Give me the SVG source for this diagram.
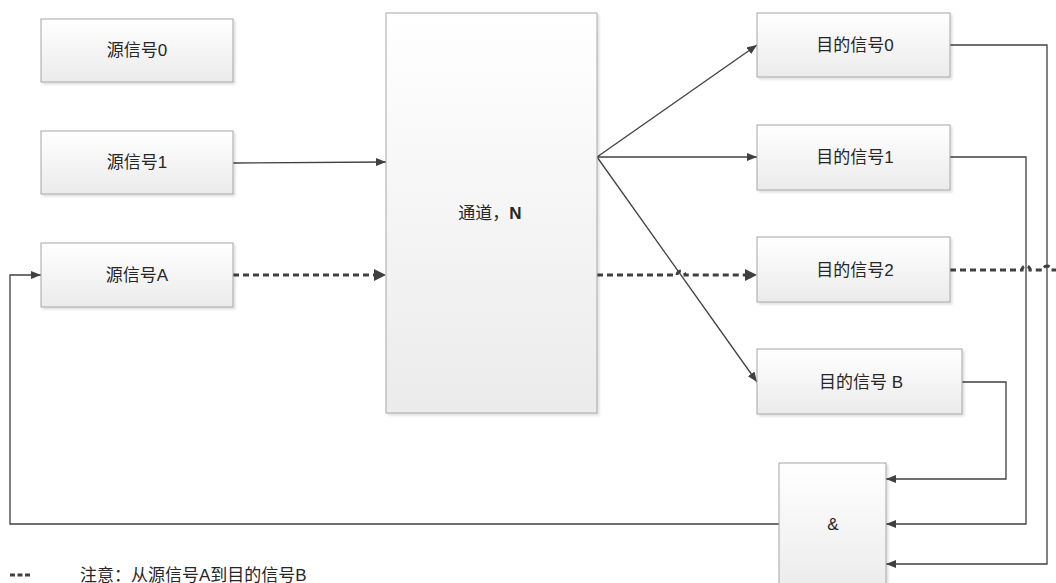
<svg xmlns="http://www.w3.org/2000/svg" width="1056" height="583" viewBox="0 0 1056 583">
<style>
.box{fill:url(#g);stroke:#a6a6a6;stroke-width:1;filter:url(#sh)}
.t{font-family:"Liberation Sans","Noto Sans CJK SC",sans-serif;font-size:17px;fill:#262626;text-anchor:middle}
.c{fill:none;stroke:#404040;stroke-width:1.3}
.d{fill:none;stroke:#404040;stroke-width:3;stroke-dasharray:6 4}
</style>
<defs>
<linearGradient id="g" x1="0" y1="0" x2="0" y2="1">
<stop offset="0" stop-color="#ffffff"/>
<stop offset="1" stop-color="#ebebeb"/>
</linearGradient>
<filter id="sh" x="-10%" y="-10%" width="130%" height="130%">
<feDropShadow dx="2" dy="2" stdDeviation="1" flood-color="#000" flood-opacity="0.12"/>
</filter>
<marker id="a" viewBox="0 0 10 8" refX="10" refY="4" markerWidth="10" markerHeight="8" markerUnits="userSpaceOnUse" orient="auto">
<path d="M0,0 L10,4 L0,8 Z" fill="#404040"/>
</marker>
<marker id="ab" viewBox="0 0 10 8" refX="10" refY="4" markerWidth="12" markerHeight="10" markerUnits="userSpaceOnUse" orient="auto">
<path d="M0,0 L10,4 L0,8 Z" fill="#404040"/>
</marker>
</defs>
<g id="connectors">
<path class="c" d="M233,163 L386,162" marker-end="url(#a)"/>
<path class="d" d="M233,275 L375,275"/>
<path d="M374,269 L386,275 L374,281 Z" fill="#404040"/>
<path class="c" d="M597,157 L757,45" marker-end="url(#a)"/>
<path class="c" d="M597,157 L757,157" marker-end="url(#a)"/>
<path class="c" d="M597,157 L757,382" marker-end="url(#a)"/>
<path class="d" d="M597,275 L677,275 A4,4 0 0 1 685,275 L746,275"/>
<path d="M745,269 L757,275 L745,281 Z" fill="#404040"/>
<path class="d" d="M950,270 L1022,270 A4,4 0 0 1 1030,270 L1043,270 A4,4 0 0 1 1051,270 L1056,270"/>
<path class="c" d="M950,45 L1047,45 L1047,564 L886,564" marker-end="url(#a)"/>
<path class="c" d="M950,157 L1026,157 L1026,524 L886,524" marker-end="url(#a)"/>
<path class="c" d="M962,382 L1006,382 L1006,479 L886,479" marker-end="url(#a)"/>
<path class="c" d="M779,524 L10,524 L10,275 L41,275" marker-end="url(#a)"/>
</g>
<g id="src0"><rect class="box" x="41" y="19" width="192" height="63"/><text class="t" x="137" y="56">源信号0</text></g>
<g id="src1"><rect class="box" x="41" y="131" width="192" height="63"/><text class="t" x="137" y="168">源信号1</text></g>
<g id="srcA"><rect class="box" x="41" y="243" width="192" height="64"/><text class="t" x="137" y="281">源信号A</text></g>
<g id="channel"><rect class="box" x="386" y="13" width="211" height="400"/><text class="t" x="490" y="219">通道，<tspan font-weight="bold">N</tspan></text></g>
<g id="dst0"><rect class="box" x="757" y="13" width="193" height="64"/><text class="t" x="855" y="51">目的信号0</text></g>
<g id="dst1"><rect class="box" x="757" y="125" width="193" height="65"/><text class="t" x="855" y="163">目的信号1</text></g>
<g id="dst2"><rect class="box" x="757" y="237" width="193" height="65"/><text class="t" x="855" y="276">目的信号2</text></g>
<g id="dstB"><rect class="box" x="757" y="349" width="205" height="65"/><text class="t" x="861" y="388">目的信号 B</text></g>
<g id="and"><rect class="box" x="779" y="463" width="107" height="130"/><text class="t" x="833" y="530">&amp;</text></g>
<g id="legend">
<path d="M10,575 L30,575" fill="none" stroke="#404040" stroke-width="3" stroke-dasharray="5 2.5"/>
<text class="t" x="80" y="581" style="text-anchor:start">注意：从源信号A到目的信号B</text>
</g>
</svg>
